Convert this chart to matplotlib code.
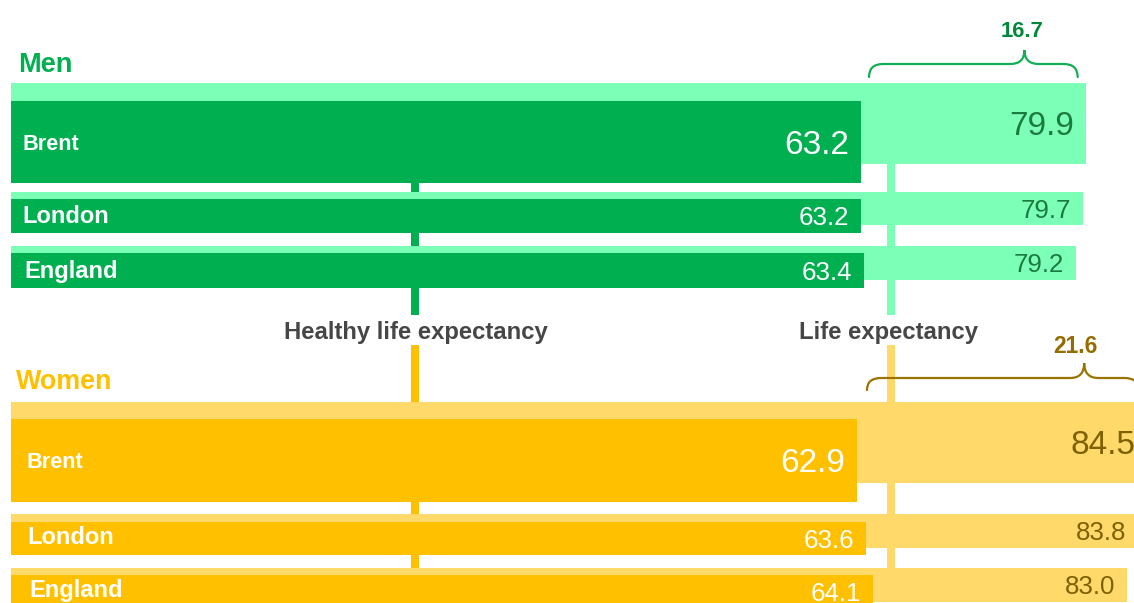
import matplotlib
matplotlib.use("Agg")
import matplotlib.pyplot as plt
from matplotlib.path import Path
from matplotlib.patches import PathPatch, Rectangle

# ---------------- data ----------------
regions = ["Brent", "London", "England"]
men_healthy = [63.2, 63.2, 63.4]
men_life = [79.9, 79.7, 79.2]
women_healthy = [62.9, 63.6, 64.1]
women_life = [84.5, 83.8, 83.0]
group_titles = ["Men", "Women"]
axis_labels = ["Healthy life expectancy", "Life expectancy"]

# ---------------- style ----------------
plt.rcParams["font.family"] = ["Liberation Sans", "DejaVu Sans"]
W, H = 1134, 603
PX_PER_YEAR = 13.45
X0 = 11  # pixel of value 0

MEN_DARK, MEN_LIGHT = "#00B050", "#7CFFB7"
WOM_DARK, WOM_LIGHT = "#FFC000", "#FFDA6B"
MEN_VAL, WOM_VAL = "#1B7A3F", "#7F6000"
MEN_BRACE, WOM_BRACE = "#13AE55", "#9A7400"
MEN_GAP, WOM_GAP = "#00893C", "#946C00"
GRAY = "#464646"

fig = plt.figure(figsize=(W / 100, H / 100), dpi=100)
ax = fig.add_axes([0, 0, 1, 1])
ax.set_xlim(-X0 / PX_PER_YEAR, (W - X0) / PX_PER_YEAR)
ax.set_ylim(H, 0)
ax.axis("off")


def px(n):
    """pixel distance -> data units along x"""
    return n / PX_PER_YEAR


def xd(p):
    """pixel x position -> data x"""
    return (p - X0) / PX_PER_YEAR


def text_mid(x, yc, s, size_pt, cap=0.716, **kw):
    size_px = size_pt / 0.72
    ax.text(x, yc + cap * size_px / 2, s, fontsize=size_pt, va="baseline", **kw)


# layout: (light center, light height, dark center, dark height, big?, text center)
men_rows = [(123.5, 81, 142, 82, True, 142), (208.5, 33, 216, 34, False, 215),
            (263, 34, 270.5, 35, False, 269.5)]
wom_rows = [(442.5, 81, 460.5, 83, True, 460), (531, 34, 538.5, 33, False, 536),
            (585, 34, 592, 34, False, 589)]
men_label_x = [22, 22, 24]
wom_label_x = [27, 27, 29]
label_sizes = [15.6, 17.0, 17.0]

# connector lines (behind the bars)
LW = 8
for xc, col, y0, y1 in [(415, MEN_DARK, 150, 315), (890.5, MEN_LIGHT, 140, 315),
                        (415, WOM_DARK, 345, 580), (890.5, WOM_LIGHT, 345, 575)]:
    ax.add_patch(Rectangle((xd(xc - LW / 2), y0), px(LW), y1 - y0, color=col, lw=0, zorder=0))


def draw_group(healthy, life, rows, dark, light, valcol, lab_x):
    for i, (lc, lh, dc, dh, big, tc) in enumerate(rows):
        ax.barh(lc, life[i], height=lh, left=0, color=light, zorder=1)
        ax.barh(dc, healthy[i], height=dh, left=0, color=dark, zorder=2)
        vs = 24 if big else 18.6
        text_mid(life[i] - px(12), lc, f"{life[i]:.1f}", vs, color=valcol, ha="right", zorder=3)
        text_mid(healthy[i] - px(12), dc, f"{healthy[i]:.1f}", vs, color="white", ha="right", zorder=3)
        text_mid(xd(lab_x[i]), tc, regions[i], label_sizes[i], color="white",
                 fontweight="bold", ha="left", zorder=3)


draw_group(men_healthy, men_life, men_rows, MEN_DARK, MEN_LIGHT, MEN_VAL, men_label_x)
draw_group(women_healthy, women_life, wom_rows, WOM_DARK, WOM_LIGHT, WOM_VAL, wom_label_x)

# group titles
text_mid(xd(18), 62, group_titles[0], 19.5, color=MEN_DARK, fontweight="bold", ha="left")
text_mid(xd(16), 379, group_titles[1], 19.4, color=WOM_DARK, fontweight="bold", ha="left")

# axis-like labels
text_mid(xd(415.5), 330.5, axis_labels[0], 17.2, color=GRAY, fontweight="bold", ha="center")
text_mid(xd(888.5), 330.5, axis_labels[1], 17.2, color=GRAY, fontweight="bold", ha="center")


def brace(x_left, x_right, tip_frac, y_end, y_mid, y_tip, color):
    r = px(14)
    xt = x_left + (x_right - x_left) * tip_frac
    verts = [(x_left, y_end), (x_left, y_mid), (x_left + r, y_mid),
             (xt - r, y_mid),
             (xt, y_mid), (xt, y_tip),
             (xt, y_mid), (xt + r, y_mid),
             (x_right - r, y_mid),
             (x_right, y_mid), (x_right, y_end)]
    codes = [Path.MOVETO, Path.CURVE3, Path.CURVE3,
             Path.LINETO,
             Path.CURVE3, Path.CURVE3,
             Path.CURVE3, Path.CURVE3,
             Path.LINETO,
             Path.CURVE3, Path.CURVE3]
    ax.add_patch(PathPatch(Path(verts, codes), fill=False, edgecolor=color, lw=1.6,
                           capstyle="round", zorder=4))
    return xt


# gap braces (Brent)
men_gap = men_life[0] - men_healthy[0]
wom_gap = women_life[0] - women_healthy[0]
xt = brace(men_healthy[0] + px(8), men_life[0] - px(8), 0.745, 77, 64, 50, MEN_BRACE)
text_mid(xt - px(2), 29.5, f"{men_gap:.1f}", 15.8, color=MEN_GAP, fontweight="bold", ha="center")
xt = brace(women_healthy[0] + px(10), women_life[0] - px(9), 0.80, 390, 378, 363, WOM_BRACE)
text_mid(xt - px(9), 345, f"{wom_gap:.1f}", 16.4, color=WOM_GAP, fontweight="bold", ha="center")

fig.savefig("out.png", dpi=100)
